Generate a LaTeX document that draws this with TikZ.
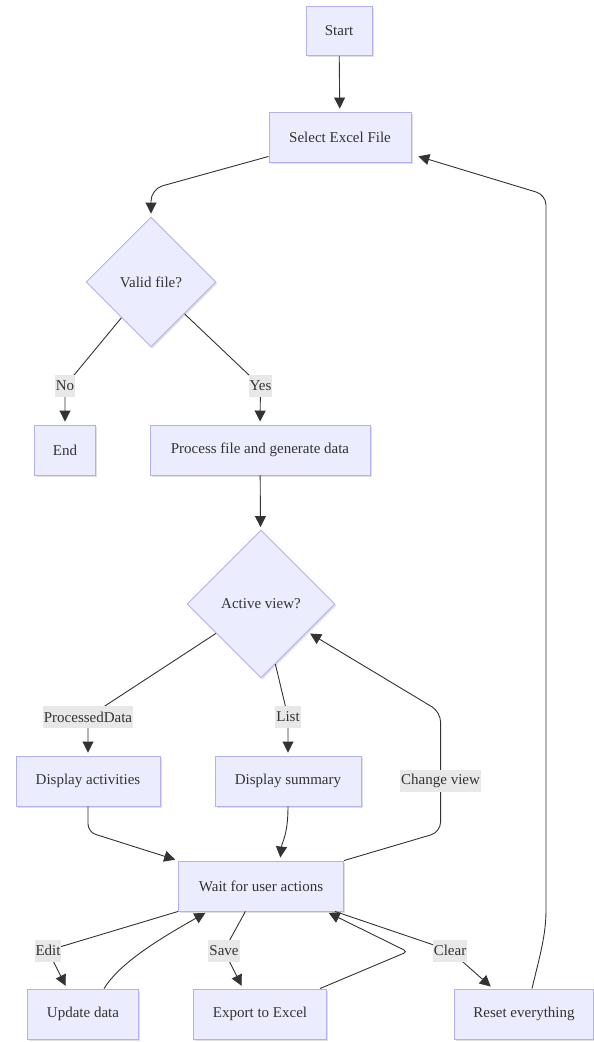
\documentclass[tikz,border=0pt]{standalone}
\usepackage{fontspec}
\setmainfont{Liberation Serif}
\usetikzlibrary{shapes.geometric,arrows.meta,shadows}
\definecolor{nodefill}{HTML}{ECECFF}
\definecolor{nodeborder}{HTML}{B4B0F0}
\definecolor{edgecol}{HTML}{333333}
\definecolor{lblfill}{HTML}{E8E8E8}
\definecolor{txtcol}{HTML}{333333}
\tikzset{
  boxnode/.style={draw=nodeborder, fill=nodefill, line width=0.9pt, minimum height=50pt,
    inner sep=0pt, text=txtcol, font=\fontsize{15}{18}\selectfont,
    drop shadow={shadow xshift=1.5pt, shadow yshift=-1.5pt, opacity=0.12, fill=black}},
  dianode/.style={diamond, aspect=1, draw=nodeborder, fill=nodefill, line width=0.9pt,
    inner sep=0pt, text=txtcol, font=\fontsize{15}{18}\selectfont,
    drop shadow={shadow xshift=1.5pt, shadow yshift=-1.5pt, opacity=0.12, fill=black}},
  lbl/.style={fill=lblfill, inner xsep=1pt, inner ysep=0pt, minimum height=22pt,
    text=txtcol, font=\fontsize{15}{18}\selectfont},
  edge/.style={draw=edgecol, line width=0.9pt, -{Triangle[length=11pt,width=11pt]}, shorten >=3pt},
}
\begin{document}
\begin{tikzpicture}[x=1pt,y=1pt]
\useasboundingbox (0,0) rectangle (594,-1042);
% nodes
\node[boxnode, minimum width=66pt, minimum height=49pt] (start) at (339,-31) {Start};
\node[boxnode, minimum width=142pt] (select) at (340,-137) {Select Excel File};
\node[dianode, minimum width=130pt, minimum height=130pt] (valid) at (151,-282) {Valid file?};
\node[boxnode, minimum width=61pt] (end) at (65,-450) {End};
\node[boxnode, minimum width=220pt] (process) at (260,-450) {Process file and generate data};
\node[dianode, minimum width=148pt, minimum height=148pt] (active) at (261,-604) {Active view?};
\node[boxnode, minimum width=144pt] (dispact) at (88,-781) {Display activities};
\node[boxnode, minimum width=146pt] (dispsum) at (288,-781) {Display summary};
\node[boxnode, minimum width=165pt] (wait) at (261,-886) {Wait for user actions};
\node[boxnode, minimum width=111pt] (update) at (83,-1014) {Update data};
\node[boxnode, minimum width=133pt] (export) at (260,-1014) {Export to Excel};
\node[boxnode, minimum width=139pt] (reset) at (524,-1014) {Reset everything};
% label positions
\coordinate (cNo) at (65,-386);
\coordinate (cYes) at (260.5,-386);
\coordinate (cPD) at (88,-717);
\coordinate (cList) at (288,-717);
\coordinate (cChange) at (440.6,-781);
\coordinate (cEdit) at (48,-950.5);
\coordinate (cSave) at (224,-950.5);
\coordinate (cClear) at (450,-950.5);
% edges
\draw[edge] (start) -- (select);
\draw[edge, rounded corners=12pt] ([yshift=6pt]select.south west) -- (151,-189) -- (valid.north);
\draw[edge, rounded corners=8pt] (valid) -- (cNo) -- (end.north);
\draw[edge, rounded corners=8pt] (valid) -- (cYes) -- (process.north);
\draw[edge] (process) -- (active);
\draw[edge, rounded corners=8pt] (active) -- (cPD) -- (dispact.north);
\draw[edge, rounded corners=8pt] (active) -- (cList) -- (dispsum.north);
\draw[edge, rounded corners=10pt] (wait.north east) -- (440.6,-832) -- (440.6,-712) -- (active);
\draw[edge, rounded corners=8pt] (dispact.south) -- (88,-832) -- (wait.north west);
\draw[edge] (dispsum.south) .. controls (288,-835) and (282,-842) .. ([xshift=19pt]wait.north);
\draw[edge, rounded corners=10pt] (wait.south west) -- (cEdit) -- ([xshift=-16pt]update.north);
\draw[edge] ([xshift=21pt]update.north) .. controls (118,-966) and (150,-944) .. ([xshift=-53pt]wait.south);
\draw[edge, rounded corners=8pt] ([xshift=-15.6pt]wait.south) -- (cSave) -- ([xshift=-17pt]export.north);
\draw[edge, rounded corners=4pt] ([xshift=-7pt]export.north east) -- (407.5,-951.7) -- ([xshift=65pt]wait.south);
\draw[edge, rounded corners=8pt] ([xshift=74pt]wait.south) -- (cClear) -- ([xshift=-31pt]reset.north);
\draw[edge, rounded corners=10pt] ([xshift=8pt]reset.north) .. controls (540,-955) and (546,-935) .. (546,-900) -- (546,-195) -- ([xshift=4pt,yshift=7pt]select.south east);
% labels
\node[lbl] (lNo) at (cNo) {No};
\node[lbl] (lYes) at (cYes) {Yes};
\node[lbl] (lPD) at (cPD) {ProcessedData};
\node[lbl] (lList) at (cList) {List};
\node[lbl] (lChange) at (cChange) {Change view};
\node[lbl] (lEdit) at (cEdit) {Edit};
\node[lbl] (lSave) at (cSave) {Save};
\node[lbl] (lClear) at (cClear) {Clear};
\end{tikzpicture}
\end{document}
